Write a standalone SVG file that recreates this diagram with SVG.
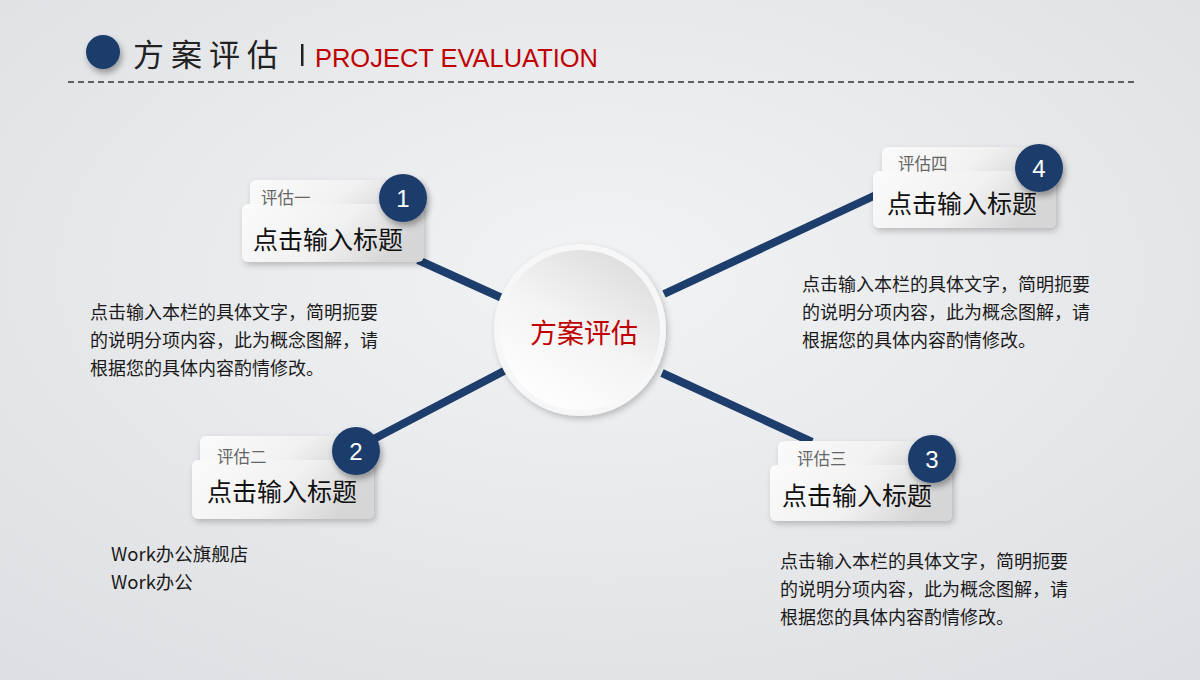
<svg xmlns="http://www.w3.org/2000/svg" width="1200" height="680" viewBox="0 0 1200 680">
<defs>
<radialGradient id="bg" cx="50%" cy="40%" r="75%">
<stop offset="0" stop-color="#f2f3f5"/>
<stop offset="1" stop-color="#dedfe2"/>
</radialGradient>
<linearGradient id="card" x1="0" y1="0" x2="1" y2="0.3">
<stop offset="0" stop-color="#fbfbfb"/>
<stop offset="0.6" stop-color="#f1f1f1"/>
<stop offset="1" stop-color="#d6d6d6"/>
</linearGradient>
<linearGradient id="hub" x1="0.8" y1="0" x2="0.2" y2="1">
<stop offset="0" stop-color="#dcdcdc"/>
<stop offset="0.5" stop-color="#f4f4f4"/>
<stop offset="1" stop-color="#ffffff"/>
</linearGradient>
<filter id="sh" x="-20%" y="-20%" width="140%" height="150%">
<feDropShadow dx="2" dy="3" stdDeviation="3" flood-color="#000" flood-opacity="0.22"/>
</filter>
<filter id="shc" x="-30%" y="-30%" width="160%" height="160%">
<feDropShadow dx="2" dy="4" stdDeviation="3" flood-color="#000" flood-opacity="0.35"/>
</filter>
<style>
.t{font-family:"Noto Sans CJK SC","Liberation Sans",sans-serif}
.lbl{font-size:16.5px;fill:#666}
.ttl{font-size:25px;fill:#111}
.num{font-family:"Liberation Sans","Noto Sans",sans-serif;font-size:24px;fill:#fff;text-anchor:middle}
.body{font-size:18px;fill:#1a1a1a}
.line{stroke:#1d3d6c;stroke-width:8;stroke-linecap:butt}
.badge{fill:#1d3d6c}
</style>
</defs>
<rect width="1200" height="680" fill="url(#bg)"/>

<g id="header">
<circle cx="103" cy="52" r="17" fill="#1d3d6c" filter="url(#shc)"/>
<text class="t" x="133" y="66" font-size="31" fill="#222" letter-spacing="7">方案评估</text>
<rect x="301" y="44" width="2.5" height="22" fill="#222"/>
<text x="315" y="67" font-family="Liberation Sans, sans-serif" font-size="25" fill="#c00000" textLength="283" lengthAdjust="spacingAndGlyphs">PROJECT EVALUATION</text>
<line x1="68" y1="82" x2="1135" y2="82" stroke="#333" stroke-width="1.3" stroke-dasharray="6,4"/>
</g>

<g id="connectors">
<line class="line" x1="418" y1="260" x2="502" y2="298"/>
<line class="line" x1="368" y1="442" x2="504" y2="371"/>
<line class="line" x1="662" y1="373" x2="812" y2="442"/>
<line class="line" x1="664" y1="294" x2="878" y2="194"/>
</g>

<g id="hub">
<circle cx="580" cy="330" r="86" fill="#f7f7f7" filter="url(#sh)"/>
<circle cx="580" cy="330" r="80" fill="url(#hub)"/>
<text class="t" x="584" y="343" font-size="27" fill="#c00000" text-anchor="middle">方案评估</text>
</g>

<g id="card1">
<g filter="url(#sh)">
<rect x="250" y="180" width="172" height="40" rx="6" fill="url(#card)"/>
<rect x="242" y="204" width="182" height="58" rx="6" fill="url(#card)"/>
</g>
<text class="t lbl" x="261" y="204">评估一</text>
<text class="t ttl" x="253" y="249">点击输入标题</text>
<circle class="badge" cx="403" cy="198" r="24" filter="url(#shc)"/>
<text class="num" x="403" y="207">1</text>
</g>

<g id="card2">
<g filter="url(#sh)">
<rect x="200" y="436" width="172" height="40" rx="6" fill="url(#card)"/>
<rect x="192" y="460" width="182" height="59" rx="6" fill="url(#card)"/>
</g>
<text class="t lbl" x="217" y="463">评估二</text>
<text class="t ttl" x="207" y="501">点击输入标题</text>
<circle class="badge" cx="356" cy="451" r="24" filter="url(#shc)"/>
<text class="num" x="356" y="460">2</text>
</g>

<g id="card3">
<g filter="url(#sh)">
<rect x="778" y="441" width="172" height="40" rx="6" fill="url(#card)"/>
<rect x="770" y="465" width="182" height="56" rx="6" fill="url(#card)"/>
</g>
<text class="t lbl" x="797" y="465">评估三</text>
<text class="t ttl" x="782" y="505">点击输入标题</text>
<circle class="badge" cx="932" cy="459" r="24" filter="url(#shc)"/>
<text class="num" x="932" y="468">3</text>
</g>

<g id="card4">
<g filter="url(#sh)">
<rect x="882" y="147" width="172" height="40" rx="6" fill="url(#card)"/>
<rect x="873" y="171" width="183" height="57" rx="6" fill="url(#card)"/>
</g>
<text class="t lbl" x="898" y="170">评估四</text>
<text class="t ttl" x="887" y="213">点击输入标题</text>
<circle class="badge" cx="1039" cy="168" r="24" filter="url(#shc)"/>
<text class="num" x="1039" y="177">4</text>
</g>

<g id="text1" class="t body">
<text x="90" y="319">点击输入本栏的具体文字，简明扼要</text>
<text x="90" y="347">的说明分项内容，此为概念图解，请</text>
<text x="90" y="375">根据您的具体内容酌情修改。</text>
</g>
<g id="text4" class="t body">
<text x="802" y="291">点击输入本栏的具体文字，简明扼要</text>
<text x="802" y="319">的说明分项内容，此为概念图解，请</text>
<text x="802" y="347">根据您的具体内容酌情修改。</text>
</g>
<g id="text3" class="t body">
<text x="780" y="568">点击输入本栏的具体文字，简明扼要</text>
<text x="780" y="596">的说明分项内容，此为概念图解，请</text>
<text x="780" y="624">根据您的具体内容酌情修改。</text>
</g>
<g id="text2" class="t" font-size="18.5" fill="#1a1a1a">
<text x="111" y="561">Work办公旗舰店</text>
<text x="111" y="589">Work办公</text>
</g>
</svg>
